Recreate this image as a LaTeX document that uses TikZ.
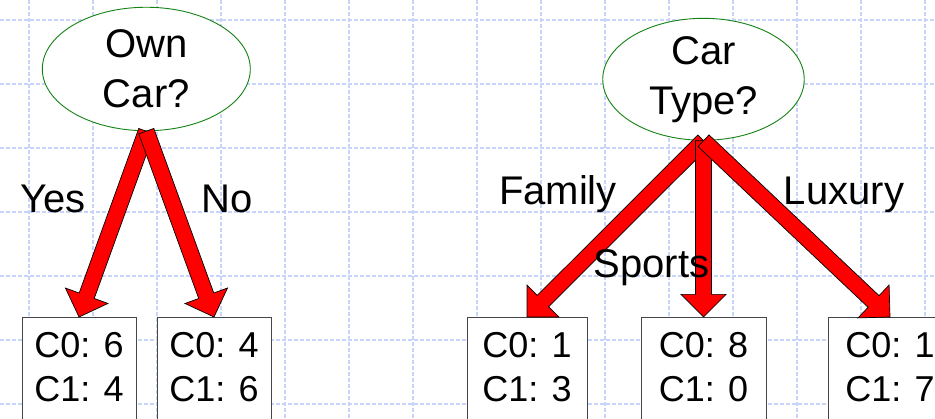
\documentclass[tikz,border=0pt]{standalone}
\usepackage{fontspec}
\setmainfont{Liberation Sans}
\usetikzlibrary{calc,shapes.geometric}

\definecolor{gridblue}{RGB}{200,212,250}
\definecolor{ovalgreen}{RGB}{20,130,20}
\definecolor{boxgray}{RGB}{70,70,70}

\tikzset{
  gridline/.style={gridblue, line width=1.1pt, dash pattern=on 4pt off 2pt},
  question/.style={ellipse, draw=ovalgreen, line width=0.9pt, fill=white,
    inner sep=0pt, align=center, font=\fontsize{40}{50}\selectfont},
  counts/.style={rectangle, draw=boxgray, line width=0.9pt, fill=white,
    anchor=north, align=center, font=\fontsize{36}{44}\selectfont,
    inner xsep=0pt, inner ysep=15pt, text depth=90pt},
  branch/.style={font=\fontsize{40}{48}\selectfont, anchor=base, inner sep=0pt},
  blockarrow/.style={fill=red, draw=black, line width=0.7pt, line join=miter},
}

% block arrow from node #1 to node #2: shaft, then a triangular head
\newcommand\bkShaft{8pt}
\newcommand\bkHead{22.6pt}
\newcommand\bkLen{22.6pt}
\newcommand\blockarrow[2]{%
  \coordinate (bk-base) at ($(#2)!\bkLen!(#1)$);
  \draw[blockarrow]
    ($(#1)!\bkShaft!90:(#2)$) -- ($(bk-base)!\bkShaft!90:(#2)$)
    -- ($(bk-base)!\bkHead!90:(#2)$) -- (#2)
    -- ($(bk-base)!\bkHead!-90:(#2)$) -- ($(bk-base)!\bkShaft!-90:(#2)$)
    -- ($(#1)!\bkShaft!-90:(#2)$) -- cycle;
}

\begin{document}
\begin{tikzpicture}[x=1pt, y=-1pt]
  \useasboundingbox (0,0) rectangle (935,419);
  \fill[white] (0,0) rectangle (935,419);
  \clip (0,0) rectangle (935,419);

  % dashed background grid
  \foreach \gx in {29,93,...,925} \draw[gridline] (\gx,0) -- (\gx,419);
  \foreach \gy in {20,84,...,404} \draw[gridline] (0,\gy) -- (935,\gy);

  % split on "Own Car?"
  \node[question, minimum width=208pt, minimum height=123.5pt] (q1) at (146.3,69) {Own\\Car?};
  \node[counts, minimum width=114pt] (b1) at (79,317) {C0: 6\\C1: 4};
  \node[counts, minimum width=114pt] (b2) at (214,317) {C0: 4\\C1: 6};
  \blockarrow{q1.south}{b1.north}
  \blockarrow{q1.south}{b2.north}
  \node[branch] (lyes) at (52.8,213) {Yes};
  \node[branch] (lno) at (227,213) {No};

  % split on "Car Type?"
  \node[question, minimum width=201.5pt, minimum height=101.7pt] (q2) at (703.5,79.3) {Car\\Type?};
  \node[counts, minimum width=120pt] (b3) at (527,317) {C0: 1\\C1: 3};
  \node[counts, minimum width=125pt] (b4) at (703.5,317) {C0: 8\\C1: 0};
  \node[counts, minimum width=124pt] (b5) at (890,317) {C0: 1\\C1: 7};
  \blockarrow{q2.south}{b3.north}
  \blockarrow{q2.south}{b4.north}
  \blockarrow{q2.south}{b5.north}
  \node[branch] (lfam) at (558,205) {Family};
  \node[branch] (lspo) at (651.5,278) {Sports};
  \node[branch] (llux) at (844,205) {Luxury};
\end{tikzpicture}
\end{document}
